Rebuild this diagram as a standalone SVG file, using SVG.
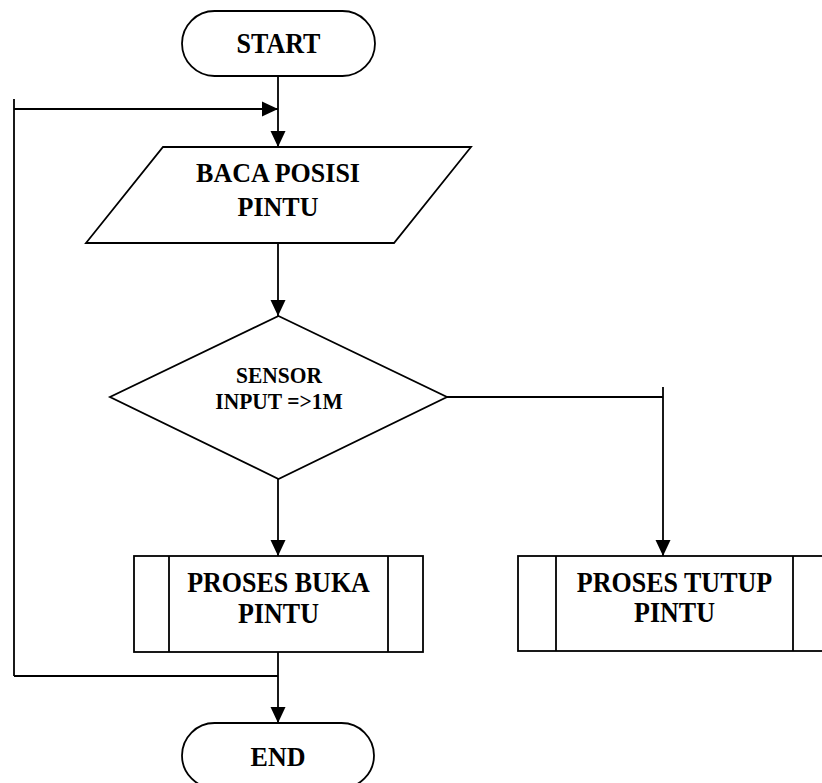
<svg xmlns="http://www.w3.org/2000/svg" width="822" height="783" viewBox="0 0 822 783">
<style>
.s{fill:#fff;stroke:#000;stroke-width:1.8}
.l{fill:none;stroke:#000;stroke-width:1.8}
.t{font-family:"Liberation Serif","Times New Roman",serif;font-weight:bold;font-size:26px;text-anchor:middle;fill:#000}
.ts{font-size:21.5px}
</style>
<defs>
<marker id="ah" markerUnits="userSpaceOnUse" markerWidth="16" markerHeight="16" refX="16" refY="8" orient="auto">
<path d="M0,0.5 L16,8 L0,15.5 z" fill="#000"/>
</marker>
</defs>
<rect width="822" height="783" fill="#fff"/>
<g id="connectors">
<path class="l" d="M278,76 V147" marker-end="url(#ah)"/>
<path class="l" d="M14,676 V99"/>
<path class="l" d="M14,109 H278" marker-end="url(#ah)"/>
<path class="l" d="M278,243 V316" marker-end="url(#ah)"/>
<path class="l" d="M447,397 H663"/>
<path class="l" d="M663,387 V556" marker-end="url(#ah)"/>
<path class="l" d="M278,479 V556" marker-end="url(#ah)"/>
<path class="l" d="M278,652 V723" marker-end="url(#ah)"/>
<path class="l" d="M14,676 H278"/>
</g>
<g id="start">
<rect class="s" x="182" y="11" width="193" height="65" rx="32.5"/>
<text class="t" transform="translate(278.5,53) scale(1,1.1)">START</text>
</g>
<g id="baca">
<polygon class="s" points="163,147 471,147 394,243 86,243"/>
<text class="t" transform="translate(278,182) scale(1,1.05)">BACA POSISI</text>
<text class="t" transform="translate(278,216) scale(1,1.05)">PINTU</text>
</g>
<g id="sensor">
<polygon class="s" points="278.5,316 447,397 278.5,479 110,397"/>
<text class="t ts" transform="translate(279,383) scale(1,1.05)">SENSOR</text>
<text class="t ts" transform="translate(279,409) scale(1,1.05)">INPUT =&gt;1M</text>
</g>
<g id="buka">
<rect class="s" x="134" y="556" width="289" height="96"/>
<path class="l" d="M169,556 V652 M388,556 V652"/>
<text class="t" transform="translate(278.5,592) scale(1,1.1)">PROSES BUKA</text>
<text class="t" transform="translate(278.5,623) scale(1,1.1)">PINTU</text>
</g>
<g id="tutup">
<rect class="s" x="518" y="556" width="313" height="95"/>
<path class="l" d="M556,556 V651 M793,556 V651"/>
<text class="t" transform="translate(674.5,592) scale(1,1.1)">PROSES TUTUP</text>
<text class="t" transform="translate(674.5,622) scale(1,1.1)">PINTU</text>
</g>
<g id="end">
<rect class="s" x="182" y="723" width="192" height="65" rx="32.5"/>
<text class="t" transform="translate(278,766) scale(1,1.05)">END</text>
</g>
</svg>
